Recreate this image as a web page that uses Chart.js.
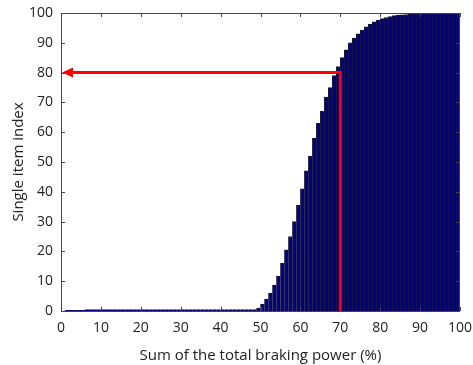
<!DOCTYPE html>
<html>
<head>
<meta charset="utf-8">
<script src="https://cdn.jsdelivr.net/npm/chart.js@4/dist/chart.umd.min.js"></script>
<style>
  html, body { margin: 0; padding: 0; background: #fff; }
  #wrap { width: 473px; height: 365px; }
</style>
</head>
<body>
<div id="wrap"><canvas id="c"></canvas></div>
<script>
// bin left edges (bars span [k, k+1])
const BINS = Array.from({ length: 100 }, (_, k) => k);

// cumulative single item index per bin
const INDEX_VALUES = [
  0, 0.2, 0.2, 0.2, 0.2, 0.2, 0.5, 0.5, 0.5, 0.5,
  0.5, 0.5, 0.5, 0.5, 0.5, 0.5, 0.5, 0.5, 0.5, 0.5,
  0.5, 0.5, 0.5, 0.5, 0.5, 0.5, 0.5, 0.5, 0.5, 0.5,
  0.5, 0.5, 0.5, 0.5, 0.5, 0.5, 0.5, 0.5, 0.5, 0.5,
  0.5, 0.5, 0.5, 0.5, 0.5, 0.5, 0.5, 0.5, 0.5, 1,
  2.3, 4, 6, 8.7, 11.7, 16, 20.5, 25, 30, 35.5,
  41, 47, 52, 58, 63, 67, 71.8, 75, 79, 82,
  85, 87.6, 90, 91.6, 93, 94.3, 95.4, 96.3, 97, 97.6,
  98.1, 98.5, 98.8, 99.1, 99.3, 99.4, 99.5, 99.7, 99.8, 99.9,
  100, 100, 100, 100, 100, 100, 100, 100, 100, 100
];

const X_TICKS = [0, 10, 20, 30, 40, 50, 60, 70, 80, 90, 100];
const Y_TICKS = [0, 10, 20, 30, 40, 50, 60, 70, 80, 90, 100];

// arrow marker: from 70% braking power up to index 80, then back to the axis
const ARROW_X = 70;
const ARROW_Y = 80;

const FONT = "'Open Sans', 'Noto Sans', sans-serif";

// box + inward ticks, matlab style
const boxPlugin = {
  id: 'box',
  afterDatasetsDraw(chart) {
    const { ctx, chartArea: a, scales: { x, y } } = chart;
    ctx.save();
    ctx.strokeStyle = '#444';
    ctx.lineWidth = 1;
    ctx.strokeRect(a.left + 0.5, a.top + 0.5, a.right - a.left - 1, a.bottom - a.top);
    ctx.beginPath();
    X_TICKS.forEach(v => {
      const px = Math.round(x.getPixelForValue(v)) + 0.5;
      ctx.moveTo(px, a.bottom); ctx.lineTo(px, a.bottom - 4);
      ctx.moveTo(px, a.top); ctx.lineTo(px, a.top + 4);
    });
    Y_TICKS.forEach(v => {
      const py = Math.round(y.getPixelForValue(v)) + 0.5;
      ctx.moveTo(a.left, py); ctx.lineTo(a.left + 4, py);
      ctx.moveTo(a.right, py); ctx.lineTo(a.right - 4, py);
    });
    ctx.stroke();
    ctx.restore();
  }
};

const arrowPlugin = {
  id: 'arrow',
  afterDatasetsDraw(chart) {
    const { ctx, scales: { x, y } } = chart;
    const x0 = x.getPixelForValue(0);
    const xa = x.getPixelForValue(ARROW_X);
    const yb = y.getPixelForValue(0);
    const ya = y.getPixelForValue(ARROW_Y);
    ctx.save();
    ctx.strokeStyle = '#ff0000';
    ctx.fillStyle = '#ff0000';
    ctx.lineWidth = 3;
    ctx.beginPath();
    ctx.moveTo(xa, yb);
    ctx.lineTo(xa, ya);
    ctx.lineTo(x0 + 8, ya);
    ctx.stroke();
    ctx.beginPath();
    ctx.moveTo(x0 + 1, ya);
    ctx.lineTo(x0 + 12, ya - 5);
    ctx.lineTo(x0 + 12, ya + 5);
    ctx.closePath();
    ctx.fill();
    ctx.restore();
  }
};

new Chart(document.getElementById('c'), {
  type: 'bar',
  data: {
    datasets: [{
      data: BINS.map((k, i) => ({ x: k + 0.5, y: INDEX_VALUES[i] })),
      backgroundColor: '#00008c',
      borderColor: '#1a1a2a',
      borderWidth: { left: 1, right: 0, top: 1, bottom: 0 },
      borderSkipped: 'start',
      barPercentage: 1,
      categoryPercentage: 1
    }]
  },
  options: {
    responsive: true,
    maintainAspectRatio: false,
    animation: false,
    layout: { padding: { left: 0, top: 13, right: 13, bottom: 0 } },
    plugins: { legend: { display: false }, tooltip: { enabled: false } },
    scales: {
      x: {
        type: 'linear',
        offset: false,
        min: 0, max: 100,
        afterBuildTicks: s => { s.ticks = X_TICKS.map(v => ({ value: v })); },
        afterFit: s => { s.height = 54; s.paddingLeft = 0; s.paddingRight = 0; },
        grid: { display: false, drawTicks: false },
        border: { display: false },
        ticks: { color: '#222', font: { family: FONT, size: 14 }, padding: 9, maxRotation: 0 },
        title: { display: true, text: 'Sum of the total braking power (%)', color: '#222', font: { family: FONT, size: 15 }, padding: { top: 4, bottom: 0 } }
      },
      y: {
        min: 0, max: 100,
        afterBuildTicks: s => { s.ticks = Y_TICKS.map(v => ({ value: v })); },
        afterFit: s => { s.width = 61; s.paddingTop = 0; s.paddingBottom = 0; },
        grid: { display: false, drawTicks: false },
        border: { display: false },
        ticks: { color: '#222', font: { family: FONT, size: 14 }, padding: 8 },
        title: { display: true, text: 'Single item index', color: '#222', font: { family: FONT, size: 15 }, padding: { top: 10, bottom: 4 } }
      }
    }
  },
  plugins: [boxPlugin, arrowPlugin]
});
</script>
</body>
</html>
